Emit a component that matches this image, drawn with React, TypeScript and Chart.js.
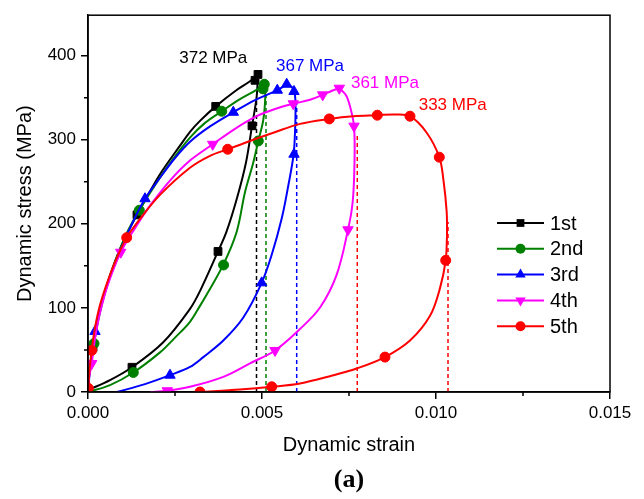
import React, { useEffect, useRef } from 'react';
import { Chart, registerables } from 'chart.js';

Chart.register(...registerables);

// ---------- data (strain, stress MPa) ----------
const seriesNames = ['1st', '2nd', '3rd', '4th', '5th'];
const seriesColors = ['#000000', '#008000', '#0000ff', '#ff00ff', '#ff0000'];
const markerStyles = ['rect', 'circle', 'triangle', 'triangle', 'circle'];
const markerRotations = [0, 0, 0, 180, 0];

const load1: number[][] = [
  [0, 0], [0.000043, 23.5], [0.000144, 52.9], [0.000287, 87.1], [0.000489, 120], [0.000776, 155.3],
  [0.001092, 185.9], [0.001408, 210.6], [0.002069, 258.8], [0.002644, 292.9], [0.002931, 309.4],
  [0.003218, 322.4], [0.00367, 339.6], [0.004224, 357.6], [0.004655, 369.4], [0.004885, 377],
];
const unload1: number[][] = [
  [0.004885, 377], [0.004842, 349.4], [0.004713, 316.5], [0.00454, 272.9], [0.004282, 230.6],
  [0.00398, 190.6], [0.003736, 167.1], [0.003218, 120], [0.002931, 98.8], [0.002155, 58.8],
  [0.001264, 29.4], [0.000632, 14.1], [0, 2.4],
];
const markers1: number[][] = [
  [0.000144, 52.9], [0.001408, 210.6], [0.00367, 339.6], [0.0048, 370.6], [0.004885, 377.6],
  [0.004713, 316.5], [0.003736, 167.1], [0.001264, 29.4],
];

const load2: number[][] = [
  [0, 0], [0.000043, 25.9], [0.000172, 57.6], [0.000316, 89.4], [0.000517, 122.4], [0.000805, 157.6],
  [0.001121, 189.4], [0.001474, 216.1], [0.001925, 245.9], [0.002414, 275.3], [0.002931, 302.4],
  [0.003362, 320], [0.003842, 333.8], [0.004368, 348.2], [0.004828, 358.8], [0.00507, 366],
];
const unload2: number[][] = [
  [0.00507, 366], [0.005095, 351.8], [0.005037, 323.5], [0.004894, 298.5], [0.00475, 272.9],
  [0.004511, 237.6], [0.004273, 190.6], [0.003888, 151.4], [0.00342, 116.5], [0.003218, 102.4],
  [0.002931, 83.5], [0.0025, 64.7], [0.002069, 47.1], [0.001302, 23.2], [0.000632, 8.2], [0, 0],
];
const markers2: number[][] = [
  [0.000172, 57.6], [0.001474, 216.1], [0.003842, 333.8], [0.005029, 360.4], [0.005066, 365.9],
  [0.004894, 298.5], [0.003895, 151], [0.001302, 23.2],
];

const load3: number[][] = [
  [0, 0], [0.000057, 25.9], [0.000201, 69.4], [0.000374, 102.4], [0.000632, 136.5], [0.000948, 170.6],
  [0.001293, 202.4], [0.001638, 229.8], [0.002069, 254.7], [0.0025, 278.2], [0.002931, 297.6],
  [0.003506, 315.8], [0.004175, 332.6], [0.004799, 347.1], [0.00544, 358.8], [0.00571, 365.9],
];
const unload3: number[][] = [
  [0.00571, 365.9], [0.005862, 362.4], [0.005948, 352.9], [0.005963, 331.8], [0.005948, 308.2],
  [0.005905, 281.2], [0.005756, 245.5], [0.005566, 206.2], [0.005279, 163.2], [0.004991, 129.8],
  [0.004463, 88.6], [0.003888, 61.2], [0.003313, 41.5], [0.002931, 29.8], [0.002356, 20],
  [0.001638, 9.4], [0.000833, 0],
];
const markers3: number[][] = [
  [0.000201, 72], [0.001638, 229.8], [0.004175, 332.6], [0.00544, 358.8], [0.00571, 365.9],
  [0.00592, 357.3], [0.00592, 282.7], [0.004991, 129.8], [0.002356, 20],
];

const load4: number[][] = [
  [0, 0], [0.000029, 16.5], [0.000106, 33.8], [0.000201, 63.5], [0.000345, 94.1], [0.000575, 128.2],
  [0.00094, 166.2], [0.001351, 194.8], [0.001782, 221.5], [0.002356, 251.4], [0.002931, 275.2],
  [0.003583, 294.5], [0.004224, 312.9], [0.004848, 327.9], [0.005374, 336.5], [0.005899, 342.7],
  [0.006379, 347.4], [0.006744, 353.3], [0.007011, 358.2], [0.007221, 361.2],
];
const unload4: number[][] = [
  [0.007221, 361.2], [0.007414, 352.9], [0.007529, 339.6], [0.007644, 316.1], [0.007658, 272.9],
  [0.007606, 225.9], [0.007471, 192.9], [0.007147, 139.6], [0.006667, 100.4], [0.006092, 74.9],
  [0.005374, 49.4], [0.004655, 34.1], [0.003888, 18], [0.002931, 6.2], [0.002279, 1.5], [0.001782, 0],
];
const markers4: number[][] = [
  [0.000106, 33.8], [0.00094, 166.2], [0.003583, 294.5], [0.005899, 342.7], [0.006744, 353.3],
  [0.007221, 361.2], [0.007644, 316.1], [0.007471, 192.9], [0.005374, 49.4], [0.002279, 1.5],
];

const load5: number[][] = [
  [0, 0], [0.0000086, 4.4], [0.000043, 25.9], [0.000106, 49.4], [0.000201, 76.5], [0.000345, 103.5],
  [0.000575, 132.9], [0.000833, 160], [0.001112, 183.5], [0.001494, 205.8], [0.002069, 234.4],
  [0.002931, 266.6], [0.003506, 280.8], [0.004014, 288.6], [0.004655, 298.5], [0.005325, 308.2],
  [0.006092, 318.8], [0.006934, 324.7], [0.007624, 327.9], [0.008313, 329.1], [0.008822, 330],
  [0.009253, 327.9], [0.009733, 308.2], [0.010095, 279.2], [0.01021, 253.3], [0.010307, 214.1],
  [0.010316, 184.7],
];
const unload5: number[][] = [
  [0.010316, 184.7], [0.010279, 156.5], [0.010115, 123.5], [0.009828, 90.6], [0.009253, 61.2],
  [0.008534, 41.5], [0.007721, 27.9], [0.006954, 18.8], [0.006092, 10.2], [0.005279, 6.2],
  [0.004368, 2.9], [0.003218, 0],
];
const markers5: number[][] = [
  [0.0000086, 4.4], [0.000106, 49.4], [0.001112, 183.5], [0.004014, 288.6], [0.006934, 324.7],
  [0.008313, 329.1], [0.009253, 327.9], [0.010095, 279.2], [0.010279, 156.5], [0.008534, 41.5],
  [0.005279, 6.2], [0.003218, 0],
];

// dashed guide lines at the maximum strain of each cycle
const dashedStrain = [0.004842, 0.005115, 0.005997, 0.007738, 0.010345];
const dashedTop = [350, 352, 345, 305, 202];
const dashedColors = ['#000000', '#008000', '#0000ff', '#ff0000', '#ff0000'];

// peak stress annotations
const peakTexts = ['372 MPa', '367 MPa', '361 MPa', '333 MPa'];
const peakX = [0.0036, 0.00638, 0.008534, 0.01048];
const peakY = [396.5, 387.4, 367, 340.4];
const peakColors = ['#000000', '#0000ff', '#ff00ff', '#ff0000'];

const xTicks = [0, 0.005, 0.01, 0.015];
const xTickLabels = ['0.000', '0.005', '0.010', '0.015'];
const xMinorTicks = [0.0025, 0.0075, 0.0125];
const yTicks = [0, 100, 200, 300, 400];
const yTickLabels = ['0', '100', '200', '300', '400'];
const yMinorTicks = [50, 150, 250, 350];

const loads = [load1, load2, load3, load4, load5];
const unloads = [unload1, unload2, unload3, unload4, unload5];
const markerSets = [markers1, markers2, markers3, markers4, markers5];
const markerRadii = [5.5, 5, 6, 6, 5];

const toXY = (arr: number[][]) => arr.map(([x, y]) => ({ x, y }));

function shapePath(ctx: CanvasRenderingContext2D, style: string, rot: number, x: number, y: number, r: number) {
  ctx.beginPath();
  if (style === 'circle') {
    ctx.arc(x, y, r, 0, Math.PI * 2);
  } else if (style === 'rect') {
    const s = Math.SQRT1_2 * r;
    ctx.rect(x - s, y - s, 2 * s, 2 * s);
  } else {
    let rad = (rot * Math.PI) / 180;
    ctx.moveTo(x + Math.sin(rad) * r, y - Math.cos(rad) * r);
    rad += (2 * Math.PI) / 3;
    ctx.lineTo(x + Math.sin(rad) * r, y - Math.cos(rad) * r);
    rad += (2 * Math.PI) / 3;
    ctx.lineTo(x + Math.sin(rad) * r, y - Math.cos(rad) * r);
    ctx.closePath();
  }
}

const decorPlugin = {
  id: 'decor',
  afterDraw(chart: any) {
    const { ctx, chartArea, scales } = chart;
    const xs = scales.x;
    const ys = scales.y;
    ctx.save();
    // frame
    ctx.strokeStyle = '#000';
    ctx.lineWidth = 1.5;
    ctx.strokeRect(chartArea.left, chartArea.top, chartArea.right - chartArea.left, chartArea.bottom - chartArea.top);
    // minor ticks
    ctx.beginPath();
    xMinorTicks.forEach((v) => {
      const px = xs.getPixelForValue(v);
      ctx.moveTo(px, chartArea.bottom);
      ctx.lineTo(px, chartArea.bottom + 4);
    });
    yMinorTicks.forEach((v) => {
      const py = ys.getPixelForValue(v);
      ctx.moveTo(chartArea.left, py);
      ctx.lineTo(chartArea.left - 4, py);
    });
    ctx.stroke();
    // peak annotations
    ctx.font = '17px "Liberation Sans", Arial, sans-serif';
    ctx.textAlign = 'center';
    ctx.textBaseline = 'middle';
    peakTexts.forEach((t, i) => {
      ctx.fillStyle = peakColors[i];
      ctx.fillText(t, xs.getPixelForValue(peakX[i]), ys.getPixelForValue(peakY[i]));
    });
    // legend
    const lx0 = 497, lx1 = 544, lxm = 520.5, ltx = 550, ly0 = 223, ldy = 25.8;
    ctx.font = '20px "Liberation Sans", Arial, sans-serif';
    ctx.textAlign = 'left';
    seriesNames.forEach((name, i) => {
      const y = ly0 + i * ldy;
      ctx.strokeStyle = seriesColors[i];
      ctx.lineWidth = 2;
      ctx.beginPath();
      ctx.moveTo(lx0, y);
      ctx.lineTo(lx1, y);
      ctx.stroke();
      ctx.fillStyle = seriesColors[i];
      shapePath(ctx, markerStyles[i], markerRotations[i], lxm, y, markerRadii[i]);
      ctx.fill();
      ctx.fillStyle = '#000';
      ctx.fillText(name, ltx, y + 1);
    });
    // panel label
    ctx.font = 'bold 26px "Liberation Serif", "Times New Roman", serif';
    ctx.textAlign = 'center';
    ctx.fillStyle = '#000';
    ctx.fillText('(a)', (chartArea.left + chartArea.right) / 2, 480);
    ctx.restore();
  },
};

export default function App() {
  const ref = useRef<HTMLCanvasElement>(null);
  useEffect(() => {
    if (!ref.current) return;
    Chart.defaults.font.family = '"Liberation Sans", Arial, sans-serif';
    Chart.defaults.color = '#000';
    const datasets: any[] = [];
    for (let i = 0; i < 5; i++) {
      const c = seriesColors[i];
      datasets.push({
        label: seriesNames[i], data: toXY(loads[i]), showLine: true, borderColor: c, borderWidth: 2,
        pointRadius: 0, tension: 0.35, fill: false, order: 100 - 10 * i,
      });
      datasets.push({
        label: seriesNames[i] + ' unloading', data: toXY(unloads[i]), showLine: true, borderColor: c, borderWidth: 2,
        pointRadius: 0, tension: 0.35, fill: false, order: 100 - 10 * i,
      });
      datasets.push({
        label: seriesNames[i] + ' markers', data: toXY(markerSets[i]), showLine: false,
        pointRadius: markerRadii[i], pointStyle: markerStyles[i], pointRotation: markerRotations[i],
        pointBackgroundColor: c, pointBorderColor: c, pointBorderWidth: 1, order: 95 - 10 * i,
      });
    }
    dashedStrain.forEach((s, j) => {
      datasets.push({
        label: 'max strain ' + j, data: [{ x: s, y: 0 }, { x: s, y: dashedTop[j] }], showLine: true,
        borderColor: dashedColors[j], borderWidth: 1.5, borderDash: [4, 3], pointRadius: 0, order: 200,
      });
    });
    const chart = new Chart(ref.current, {
      type: 'scatter',
      data: { datasets },
      options: {
        animation: false,
        responsive: true,
        maintainAspectRatio: false,
        events: [],
        layout: { padding: { top: 11, right: 34, left: 0, bottom: 0 } },
        plugins: { legend: { display: false }, tooltip: { enabled: false } },
        scales: {
          x: {
            type: 'linear', min: 0, max: 0.015,
            afterBuildTicks: (s: any) => { s.ticks = xTicks.map((v) => ({ value: v })); },
            afterFit: (s: any) => { s.height = 107; },
            ticks: {
              callback: (_v: any, i: number) => xTickLabels[i], font: { size: 17 }, padding: 4,
              maxRotation: 0, autoSkip: false, color: '#000',
            },
            grid: { drawOnChartArea: false, drawTicks: true, tickLength: 7, color: '#000', lineWidth: 1.5 },
            border: { display: true, color: '#000', width: 1.5 },
            title: { display: true, text: 'Dynamic strain', font: { size: 20 }, color: '#000', padding: { top: 0, bottom: 42 } },
          },
          y: {
            type: 'linear', min: 0, max: 448,
            afterBuildTicks: (s: any) => { s.ticks = yTicks.map((v) => ({ value: v })); },
            afterFit: (s: any) => { s.width = 88; },
            ticks: { callback: (_v: any, i: number) => yTickLabels[i], font: { size: 17 }, padding: 5, color: '#000' },
            grid: { drawOnChartArea: false, drawTicks: true, tickLength: 7, color: '#000', lineWidth: 1.5 },
            border: { display: true, color: '#000', width: 1.5 },
            title: { display: true, text: 'Dynamic stress (MPa)', font: { size: 20 }, color: '#000', padding: { top: 13, bottom: 0 } },
          },
        },
      },
      plugins: [decorPlugin],
    } as any);
    return () => chart.destroy();
  }, []);
  return (
    <div style={{ position: 'fixed', left: 0, top: 0, width: 644, height: 499, background: '#fff' }}>
      <canvas ref={ref} />
    </div>
  );
}
